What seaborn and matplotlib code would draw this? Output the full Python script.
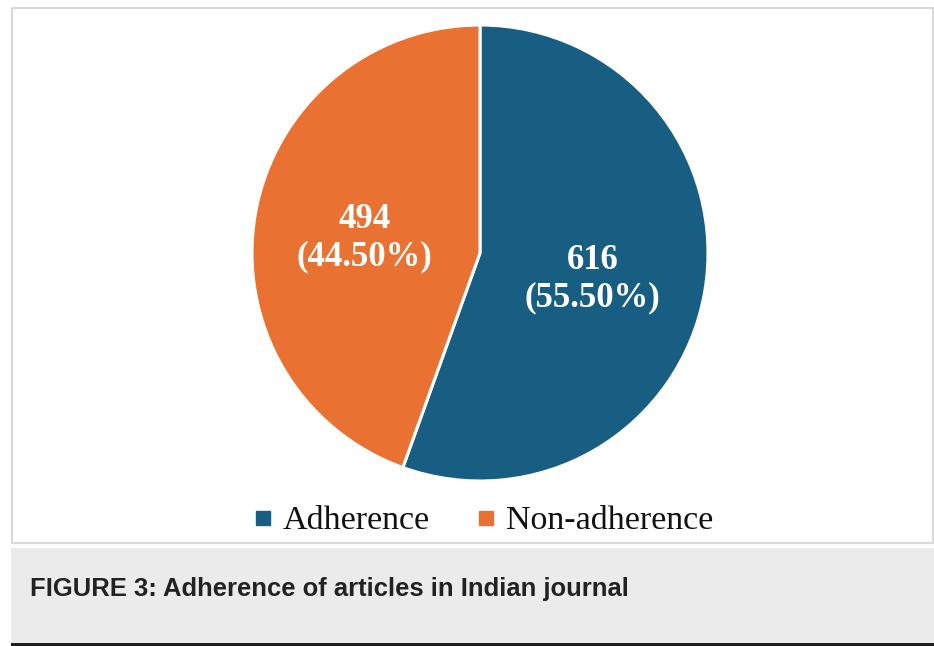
import matplotlib
matplotlib.use("Agg")
import matplotlib.pyplot as plt
import seaborn as sns
from matplotlib.lines import Line2D
from matplotlib.patches import Rectangle

# Data
categories = ["Adherence", "Non-adherence"]
counts = [616, 494]
percent_labels = ["55.50%", "44.50%"]
caption = "FIGURE 3: Adherence of articles in Indian journal"

sns.set_theme(style="white")
colors = sns.color_palette(["#175E82", "#E97132"])

W, H = 934, 646
fig = plt.figure(figsize=(W / 100, H / 100), dpi=100)
fig.patch.set_facecolor("white")


def px_rect(x0, y0, x1, y1, **kw):
    """Rectangle given in pixel coordinates measured from the top-left."""
    return Rectangle((x0 / W, 1 - y1 / H), (x1 - x0) / W, (y1 - y0) / H,
                     transform=fig.transFigure, zorder=-5, **kw)


# chart frame, caption band and bottom rule
fig.patches.append(px_rect(12, 8, 933, 543, facecolor="white",
                           edgecolor="#D9D9D9", linewidth=1.6))
fig.patches.append(px_rect(11, 548, 934, 643, facecolor="#EBEBEB",
                           edgecolor="none"))
fig.patches.append(px_rect(11, 643, 934, 646, facecolor="#1E1E1E",
                           edgecolor="none"))

# pie
cx, cy, r = 480, 253, 228
ax = fig.add_axes([(cx - r) / W, 1 - (cy + r) / H, 2 * r / W, 2 * r / H])
ax.set_zorder(2)
ax.patch.set_alpha(0)
wedges, _ = ax.pie(counts, colors=colors, startangle=90, counterclock=False,
                   radius=1.0,
                   wedgeprops=dict(edgecolor="white", linewidth=2.2))
ax.set_xlim(-1, 1)
ax.set_ylim(-1, 1)
ax.set_aspect("equal")
ax.axis("off")

label_pos = [(0.495, -0.115), (-0.505, 0.065)]
for (x, y), n, p in zip(label_pos, counts, percent_labels):
    ax.text(x, y, f"{n}\n({p})", ha="center", va="center", color="white",
            fontsize=25, fontweight="bold", family="Liberation Serif",
            linespacing=1.2)

# legend
handles = [Line2D([0], [0], marker="s", linestyle="none", markersize=9.5,
                  markerfacecolor=c, markeredgecolor=c) for c in colors]
leg = fig.legend(handles, categories, loc="center", ncol=2,
                 bbox_to_anchor=(484 / W, 1 - 521 / H), frameon=False,
                 prop=dict(family="Liberation Serif", size=24.5),
                 handlelength=0.45, handletextpad=0.35, columnspacing=1.45,
                 borderpad=0, labelcolor="#111111")
leg.set_zorder(3)

# caption
fig.text(30 / W, 1 - 589 / H, caption, ha="left", va="center",
         family="Liberation Sans", fontweight="bold", fontsize=18.45,
         color="#222222")

fig.savefig("out.png", dpi=100)
